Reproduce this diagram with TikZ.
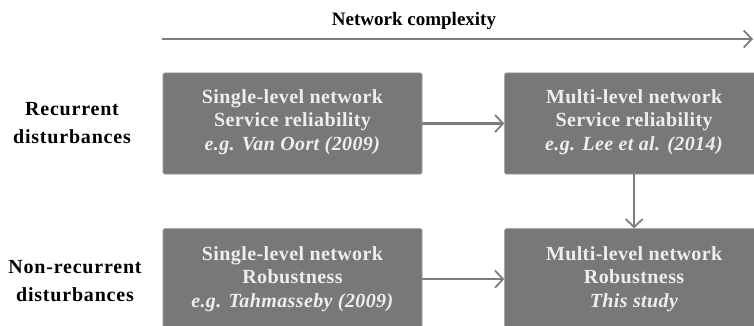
\documentclass[tikz,border=0pt]{standalone}
\usepackage{fontspec}
\setmainfont{Liberation Serif}
\newfontfamily\boxfont{Liberation Serif}[LetterSpace=2]
\newfontfamily\labelfont{Liberation Serif}[LetterSpace=4]
\usetikzlibrary{positioning,arrows.meta}

\definecolor{boxgray}{RGB}{120,120,120}
\definecolor{boxedge}{RGB}{150,150,150}
\definecolor{boxtext}{RGB}{238,238,238}
\definecolor{linegray}{RGB}{125,125,125}

\tikzset{
  studybox/.style={rectangle, fill=boxgray, draw=boxedge, line width=.6pt,
    rounded corners=1.5pt, minimum width=259pt, minimum height=101pt,
    inner sep=0pt, align=center, text=boxtext,
    font=\boxfont\fontsize{20}{23.5}\selectfont\bfseries},
  rowlabel/.style={align=center, font=\labelfont\fontsize{20}{28}\selectfont\bfseries},
  conn/.style={draw=linegray, line width=2.4pt,
    -{Straight Barb[length=8pt,width=17pt,line width=1.8pt]}}
}

\begin{document}
\begin{tikzpicture}[x=1pt,y=-1pt]
    \clip (0,0) rectangle (754,326);
    \def\w{259}
    \def\gap{82}
    % axis on top
    \node[font=\fontsize{19}{22}\selectfont\bfseries] (axis) at (414,21) {Network complexity};
    \coordinate (axisstart) at (162,39);
    \coordinate (axisend) at (753,39);
    \draw[conn] (axisstart) -- (axisend);
    % boxes
    \node[studybox] (singlerel) at ({163 + \w/2},123.5)
      {Single-level network\\Service reliability\\\textit{e.g. Van Oort (2009)}\\[-16pt]};
    \node[studybox, right=\gap pt of singlerel] (multirel)
      {Multi-level network\\Service reliability\\\textit{e.g. Lee et al. (2014)}\\[-16pt]};
    \node[studybox, below=54pt of singlerel] (singlerob)
      {Single-level network\\Robustness\\\textit{e.g. Tahmasseby (2009)}};
    \node[studybox, below=54pt of multirel] (multirob)
      {Multi-level network\\Robustness\\\textit{This study}};
    % row labels
    \node[rowlabel] (recurrent) at (72,123) {Recurrent\\disturbances};
    \node[rowlabel] (nonrecurrent) at (75,281) {Non-recurrent\\disturbances};
    % connectors
    \draw[conn] (singlerel) -- (multirel);
    \draw[conn] (singlerob) -- (multirob);
    \draw[conn] (multirel) -- (multirob);
\end{tikzpicture}
\end{document}
